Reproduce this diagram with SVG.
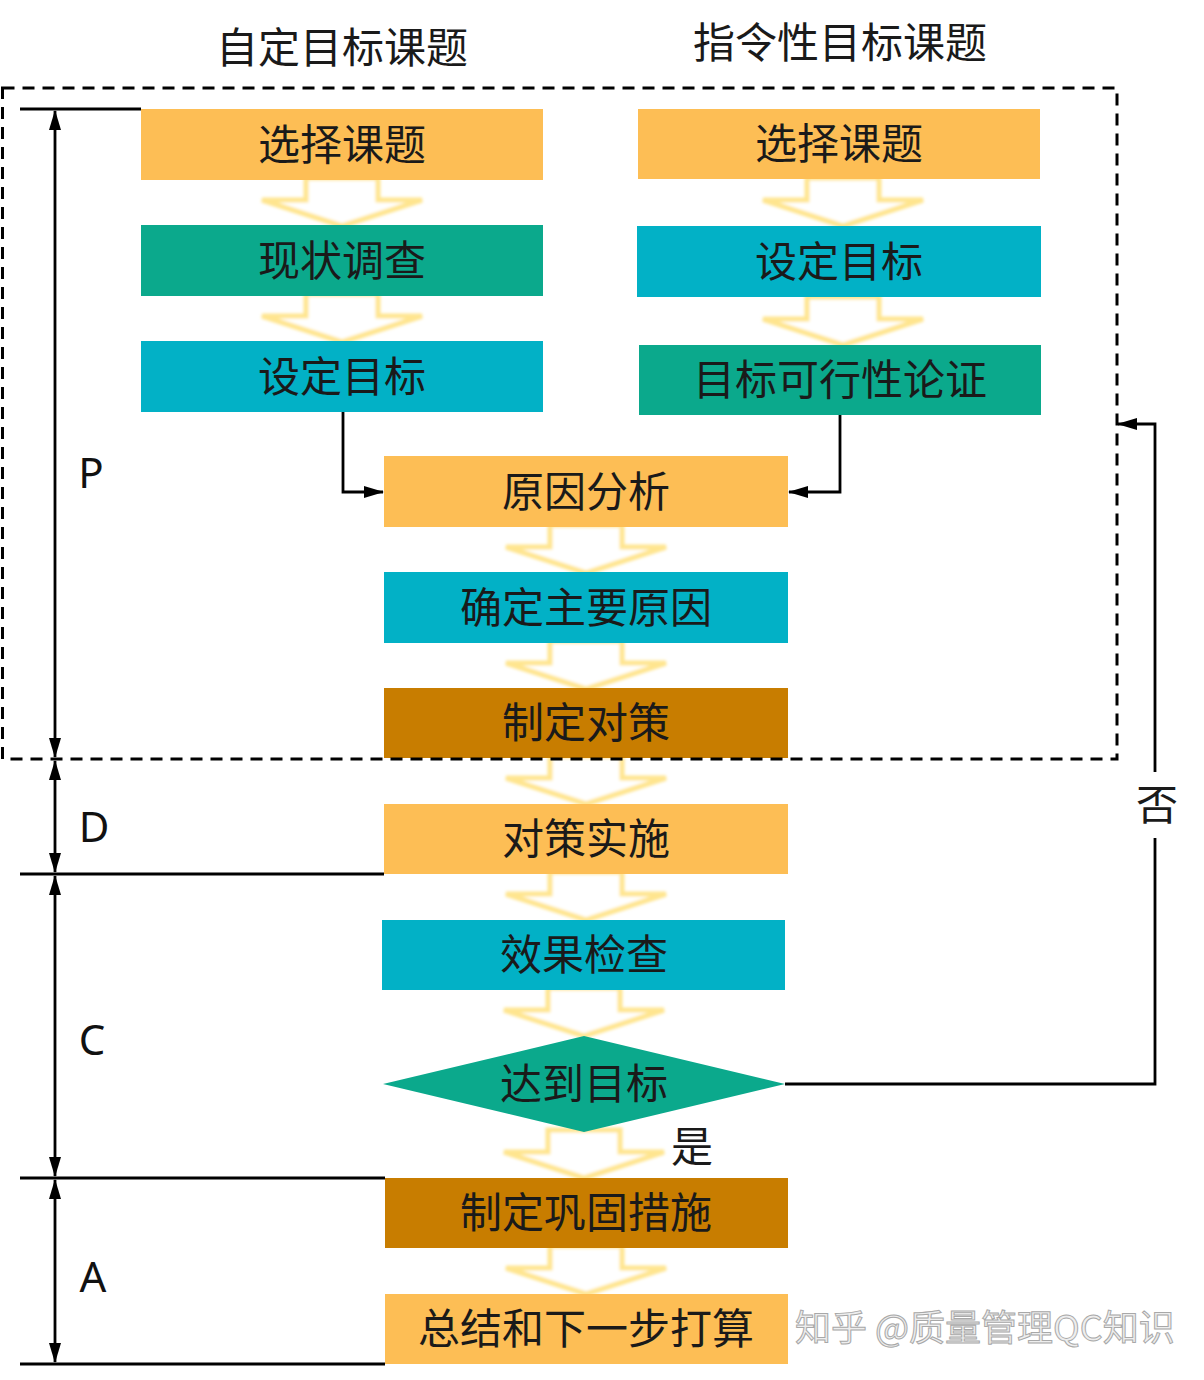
<svg xmlns="http://www.w3.org/2000/svg" width="1204" height="1380" viewBox="0 0 1204 1380">
<style>
.t{font-family:"Noto Sans CJK SC","Noto Sans",sans-serif;font-size:42px;fill:#1a1a1a;text-anchor:middle}
.lbl{font-family:"Noto Sans","DejaVu Sans",sans-serif;font-size:42px;fill:#111;text-anchor:middle}
.or{fill:#FDBE55}.gr{fill:#0BA98C}.cy{fill:#02B1C6}.br{fill:#C87D00}
.ln{stroke:#000;stroke-width:2.8;fill:none}
.ha{fill:#fff;stroke:#FFE58F;stroke-width:5;filter:url(#glow)}
</style>
<defs>
<filter id="glow" x="-20%" y="-30%" width="140%" height="160%"><feGaussianBlur stdDeviation="1.8"/></filter>
<path id="harrow" d="M-36,-2 L36,-2 L36,20 L80,20 L0,46 L-80,20 L-36,20 Z"/>
<marker id="ah" viewBox="0 0 20 12" refX="19" refY="6" markerWidth="20" markerHeight="12" markerUnits="userSpaceOnUse" orient="auto-start-reverse"><path d="M0,0 L20,6 L0,12 Z" fill="#000"/></marker>
<marker id="bh" viewBox="0 0 20 12" refX="19" refY="6" markerWidth="20" markerHeight="12" markerUnits="userSpaceOnUse" orient="auto-start-reverse"><path d="M0,0 L20,6 L0,12 Z" fill="#000"/></marker>
</defs>
<g id="titles">
<text class="t" x="342" y="63">自定目标课题</text>
<text class="t" x="840" y="58">指令性目标课题</text>
</g>
<g id="hollow-arrows">
<use href="#harrow" class="ha" x="342" y="180"/>
<use href="#harrow" class="ha" x="342" y="296"/>
<use href="#harrow" class="ha" x="843" y="180"/>
<use href="#harrow" class="ha" x="843" y="299"/>
<use href="#harrow" class="ha" x="586" y="527"/>
<use href="#harrow" class="ha" x="586" y="643"/>
<use href="#harrow" class="ha" x="586" y="758"/>
<use href="#harrow" class="ha" x="586" y="874"/>
<use href="#harrow" class="ha" x="584" y="990"/>
<use href="#harrow" class="ha" x="584" y="1132"/>
<use href="#harrow" class="ha" x="586" y="1248"/>
</g>
<g id="n1"><rect class="or" x="141" y="109" width="402" height="71"/><text class="t" x="342" y="160">选择课题</text></g>
<g id="n2"><rect class="gr" x="141" y="225" width="402" height="71"/><text class="t" x="342" y="276">现状调查</text></g>
<g id="n3"><rect class="cy" x="141" y="341" width="402" height="71"/><text class="t" x="342" y="392">设定目标</text></g>
<g id="n4"><rect class="or" x="638" y="109" width="402" height="70"/><text class="t" x="839" y="159">选择课题</text></g>
<g id="n5"><rect class="cy" x="637" y="226" width="404" height="71"/><text class="t" x="839" y="277">设定目标</text></g>
<g id="n6"><rect class="gr" x="639" y="345" width="402" height="70"/><text class="t" x="840" y="395">目标可行性论证</text></g>
<g id="n7"><rect class="or" x="384" y="456" width="404" height="71"/><text class="t" x="586" y="507">原因分析</text></g>
<g id="n8"><rect class="cy" x="384" y="572" width="404" height="71"/><text class="t" x="586" y="623">确定主要原因</text></g>
<g id="n9"><rect class="br" x="384" y="688" width="404" height="70"/><text class="t" x="586" y="738">制定对策</text></g>
<g id="n10"><rect class="or" x="384" y="804" width="404" height="70"/><text class="t" x="586" y="854">对策实施</text></g>
<g id="n11"><rect class="cy" x="382" y="920" width="403" height="70"/><text class="t" x="584" y="970">效果检查</text></g>
<g id="n12"><polygon class="gr" points="383,1084 584,1036 785,1084 584,1132"/><text class="t" x="584" y="1099">达到目标</text></g>
<g id="n13"><rect class="br" x="385" y="1178" width="403" height="70"/><text class="t" x="586" y="1228">制定巩固措施</text></g>
<g id="n14"><rect class="or" x="385" y="1294" width="403" height="70"/><text class="t" x="586" y="1344">总结和下一步打算</text></g>
<g id="phase-frame">
<rect x="2.5" y="88" width="1114.5" height="671" fill="none" stroke="#000" stroke-width="3" stroke-dasharray="12 8"/>
<path class="ln" d="M20,109 H141 M20,874 H384 M20,1178 H385 M20,1364 H385"/>
<line class="ln" x1="55" y1="111" x2="55" y2="757" marker-start="url(#bh)" marker-end="url(#bh)"/>
<line class="ln" x1="55" y1="761" x2="55" y2="872" marker-start="url(#bh)" marker-end="url(#bh)"/>
<line class="ln" x1="55" y1="876" x2="55" y2="1176" marker-start="url(#bh)" marker-end="url(#bh)"/>
<line class="ln" x1="55" y1="1180" x2="55" y2="1362" marker-start="url(#bh)" marker-end="url(#bh)"/>
<text class="lbl" x="91" y="488">P</text>
<text class="lbl" x="94" y="842">D</text>
<text class="lbl" x="92" y="1055">C</text>
<text class="lbl" x="93" y="1292">A</text>
</g>
<g id="connectors">
<path class="ln" d="M343,412 V492 H383" marker-end="url(#ah)"/>
<path class="ln" d="M840,415 V492 H789" marker-end="url(#ah)"/>
<path class="ln" d="M785,1084 H1155 V838"/>
<path class="ln" d="M1155,772 V424 H1118" marker-end="url(#ah)"/>
<text class="t" x="1157" y="820">否</text>
<text class="t" x="692" y="1162">是</text>
</g>
<g id="watermark">
<text x="795" y="1341" font-family="Noto Sans CJK SC, sans-serif" font-size="36" fill="#eeeeee" stroke="#a8a8a8" stroke-width="1">知乎 @质量管理QC知识</text>
</g>
</svg>
